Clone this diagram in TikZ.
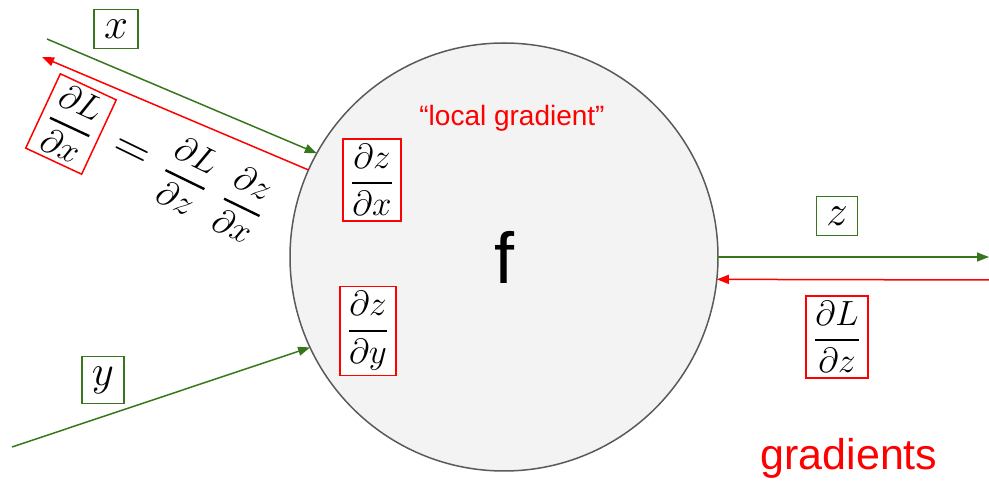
\documentclass[tikz,border=0pt]{standalone}
\usepackage{fix-cm}
\usepackage{amsmath}
\usepackage{fontspec}
\newfontfamily\arialfont{Liberation Sans}
\usetikzlibrary{arrows.meta}
\definecolor{fwdgreen}{RGB}{56,118,29}
\definecolor{bwdred}{RGB}{255,0,0}
\definecolor{nodegray}{RGB}{243,243,243}
\definecolor{rimgray}{RGB}{90,90,90}
\newcommand{\pd}[2]{\genfrac{}{}{2.4pt}{0}{\partial #1}{\partial #2}}

\begin{document}
\begin{tikzpicture}[
    x = 1pt, y = 1pt,
    every node/.style = {font=\fontsize{35}{42}\selectfont},
    gate/.style   = {circle, draw=rimgray, line width=1.5pt, fill=nodegray,
                     minimum size=428pt, inner sep=0pt, outer sep=0pt,
                     font=\arialfont\fontsize{72}{80}\selectfont},
    gbox/.style   = {rectangle, draw=fwdgreen, line width=1.5pt, fill=white,
                     inner sep=10pt, font=\fontsize{43}{48}\selectfont},
    rbox/.style   = {rectangle, draw=bwdred, line width=1.5pt, fill=white,
                     inner xsep=8pt, inner ysep=5pt},
    redtext/.style = {text=bwdred, font=\arialfont\fontsize{28}{32}\selectfont},
    fwd/.style    = {draw=fwdgreen, line width=1.5pt,
                     -{Triangle[length=12pt, width=9pt]}},
    bwd/.style    = {draw=bwdred, line width=1.5pt,
                     -{Triangle[length=12pt, width=9pt]}}
]
\useasboundingbox (0,0) rectangle (989,482);

% the gate
\node[gate] (f) at (504,225) {f};
\node[redtext] (lg) at (512,364) {“local gradient”};
\node[rbox] (dzdx) at (372,302) {$\pd{z}{x}$};
\node[rbox] (dzdy) at (368,151) {$\pd{z}{y}$};

% inputs
\coordinate (xin)  at (47,443);
\coordinate (xout) at (42,425);
\coordinate (yin)  at (12,35);
\node[gbox] (xl) at (116,453) {$x$};
\node[gbox] (yl) at (103,102) {$y$};
\node[rbox, rotate=-25] (dLdx) at (71,358) {$\pd{L}{x}$};
\node[rotate=-26] (chain) at (189,304)
    {\mbox{\fontsize{50}{56}\selectfont$=$}$\;\;\pd{L}{z}\;\;\pd{z}{x}$};

% output
\coordinate (zout) at (989,225);
\coordinate (gin)  at (989,202);
\node[gbox] (zl) at (837,266) {$z$};
\node[rbox] (dLdz) at (837,145) {$\pd{L}{z}$};
\node[redtext, font=\arialfont\fontsize{43}{48}\selectfont] (gr) at (849,24) {gradients};

\draw[fwd] (xin) -- (f.151);
\draw[bwd] (f.156.5) -- (xout);
\draw[fwd] (yin) -- (f.205);
\draw[fwd] (f.0) -- (zout);
\draw[bwd] (gin) -- (f.-6);
\end{tikzpicture}
\end{document}
